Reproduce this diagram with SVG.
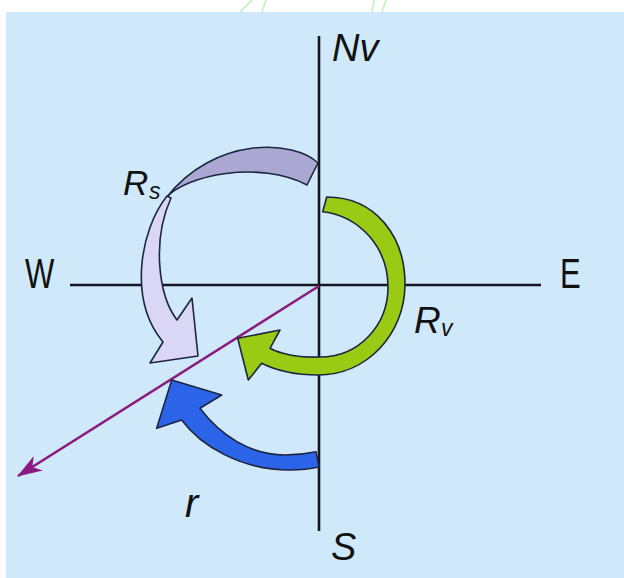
<svg xmlns="http://www.w3.org/2000/svg" width="624" height="578" viewBox="0 0 624 578">
  <style>
    .ax { stroke: #15151f; stroke-width: 2.6; fill: none; }
    .lbl { font-family: "Liberation Sans", Arial, sans-serif; fill: #111; }
    .it { font-style: italic; }
    .arr { stroke: #1d2540; stroke-width: 1.6; stroke-linejoin: round; }
    .wm { stroke: #c9f3c9; stroke-width: 2; fill: none; }
  </style>
  <defs>
    <marker id="ah" markerUnits="userSpaceOnUse" viewBox="0 0 26 20" refX="24" refY="10" markerWidth="26" markerHeight="20" orient="auto">
      <path d="M25,10 L0,1.5 L7,10 L0,18.5 Z" fill="#8b1a7e"/>
    </marker>
  </defs>
  <rect x="0" y="0" width="624" height="578" fill="#ffffff"/>
  <g id="watermark">
    <path class="wm" d="M240,12 L252,0 M262,12 L266,0 M372,12 L374,0 M382,12 L386,0"/>
  </g>
  <rect id="panel" x="6" y="12" width="618" height="566" fill="#cfe9fa"/>

  <g id="connectors">
    <line class="ax" x1="319" y1="36" x2="319" y2="531"/>
    <line class="ax" x1="70" y1="285" x2="541" y2="285"/>
    <line x1="319" y1="286" x2="18" y2="476" stroke="#8b1a7e" stroke-width="2.6" marker-end="url(#ah)"/>
  </g>

  <g id="Rs-arrow">
    <path class="arr" fill="#aba7d3" d="M318,163 C295,140 215,135 166,198 C185,175 260,160 307,185 Z"/>
    <path class="arr" fill="#d9d6f6" d="M167,196 C140,230 128,300 163,342 L150,363 L198,356 L192,298 L177,320 C158,295 152,240 171,198 Z"/>
  </g>

  <g id="Rv-arrow">
    <path class="arr" fill="#9acb14" d="M326.7,197 C376,197 405,237 405,284 C405,334 367,375 318,375 C295,375 275,370 261.7,363.3 L248.3,380 L237.7,338.3 L280,330 L270,348.3 C280,354 300,358 320,357 C358.6,357 388,325.6 388,287 C388,248 360,216 322.7,211.7 Z"/>
  </g>

  <g id="r-arrow">
    <path class="arr" fill="#2b64e8" d="M181.7,420 C200,445 240,470 290,470 C300,470 310,469 319,467 L316,451.7 C305,454 295,455 285,455 C250,455 220,435 200,408.3 L221.7,395 L171.7,380 L156.7,428.3 Z"/>
  </g>

  <g id="labels">
    <text id="lbl-Nv" class="lbl it" x="332" y="61" font-size="38">Nv</text>
    <text id="lbl-S" class="lbl it" x="331" y="560" font-size="38">S</text>
    <text id="lbl-W" class="lbl" transform="translate(25,288) scale(0.74,1)" font-size="42">W</text>
    <text id="lbl-E" class="lbl" transform="translate(560,288) scale(0.74,1)" font-size="42">E</text>
    <text id="lbl-r" class="lbl it" x="185" y="517" font-size="40">r</text>
    <text id="lbl-Rs" class="lbl it" x="123" y="195" font-size="35">R<tspan x="149" y="199" font-size="23">s</tspan></text>
    <text id="lbl-Rv" class="lbl it" x="414" y="333" font-size="37">R<tspan x="441" y="336" font-size="23">v</tspan></text>
  </g>
</svg>
